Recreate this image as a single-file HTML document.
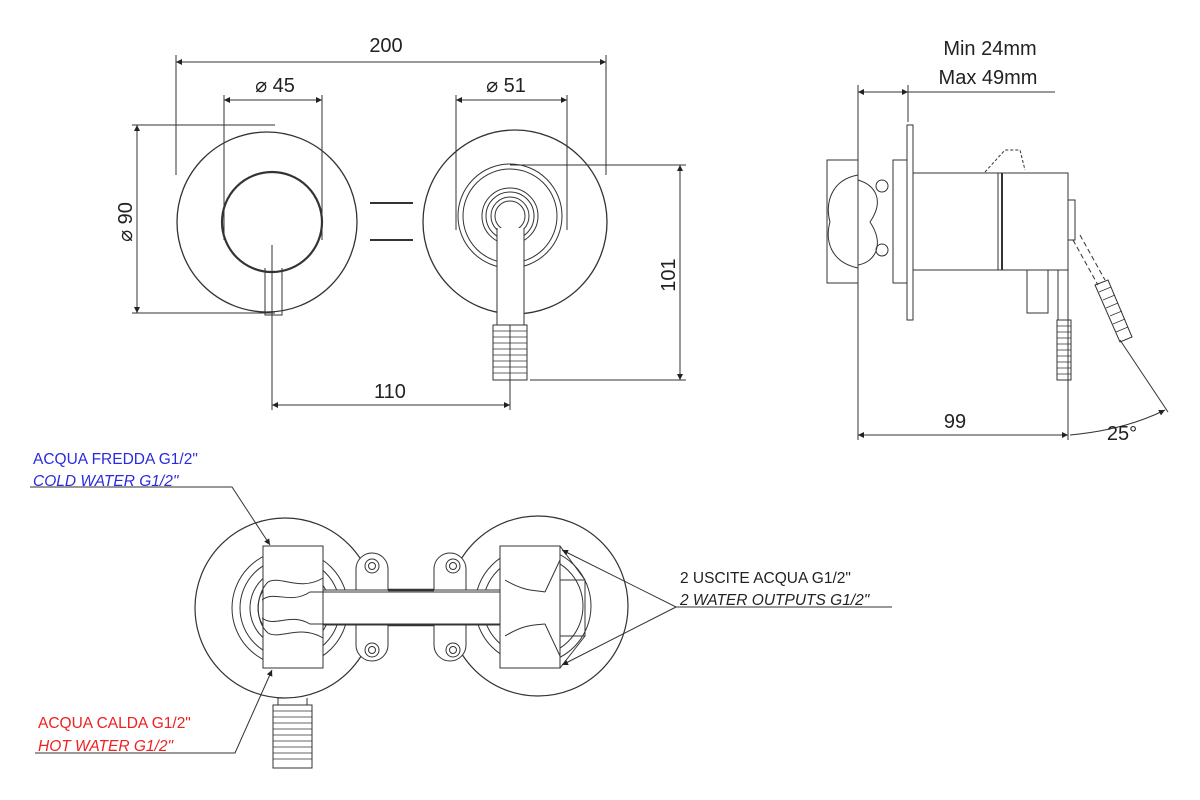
<!DOCTYPE html>
<html><head><meta charset="utf-8"><style>
html,body{margin:0;padding:0;background:#fff;}
svg{display:block;}
text{font-family:"Liberation Sans",sans-serif;}
</style></head><body>
<svg width="1200" height="800" viewBox="0 0 1200 800" xmlns="http://www.w3.org/2000/svg">
<defs>
<marker id="a" viewBox="0 0 10 10" refX="10" refY="5" markerWidth="10" markerHeight="6" orient="auto-start-reverse" markerUnits="userSpaceOnUse"><path d="M0,0 L10,5 L0,10 z" fill="#222"/></marker>
</defs>
<g stroke="#333" stroke-width="1" fill="none">
<!-- ===== TOP FRONT VIEW ===== -->
<!-- dims -->
<line x1="176" y1="55" x2="176" y2="175"/><line x1="606" y1="55" x2="606" y2="175"/>
<line x1="176" y1="62" x2="606" y2="62" marker-start="url(#a)" marker-end="url(#a)"/>
<line x1="224" y1="95" x2="224" y2="240"/><line x1="322" y1="95" x2="322" y2="240"/>
<line x1="224" y1="100" x2="322" y2="100" marker-start="url(#a)" marker-end="url(#a)"/>
<line x1="456" y1="95" x2="456" y2="230"/><line x1="567" y1="95" x2="567" y2="230"/>
<line x1="456" y1="100" x2="567" y2="100" marker-start="url(#a)" marker-end="url(#a)"/>
<line x1="132" y1="125" x2="275" y2="125"/><line x1="132" y1="313" x2="275" y2="313"/>
<line x1="137" y1="125" x2="137" y2="313" marker-start="url(#a)" marker-end="url(#a)"/>
<line x1="510" y1="165" x2="686" y2="165"/><line x1="530" y1="380" x2="686" y2="380"/>
<line x1="680" y1="165" x2="680" y2="380" marker-start="url(#a)" marker-end="url(#a)"/>
<line x1="272" y1="245" x2="272" y2="410"/><line x1="510" y1="230" x2="510" y2="410"/>
<line x1="272" y1="405" x2="510" y2="405" marker-start="url(#a)" marker-end="url(#a)"/>
<!-- left -->
<circle cx="267" cy="222" r="90" stroke-width="1.3"/>
<circle cx="272" cy="222" r="50" stroke-width="2.2"/>
<path d="M265,268 L265,315 L282,315 L282,268"/>
<!-- connector -->
<line x1="370" y1="203" x2="413" y2="203" stroke-width="2"/>
<line x1="370" y1="240" x2="413" y2="240" stroke-width="2"/>
<!-- right -->
<circle cx="515" cy="222" r="92" stroke-width="1.3"/>
<circle cx="510" cy="216" r="52"/><circle cx="510" cy="216" r="47"/>
<circle cx="510" cy="216" r="28"/><circle cx="510" cy="216" r="24"/><circle cx="510" cy="216" r="19"/><circle cx="510" cy="216" r="15"/>
<path d="M497,228 L497,325 L524,325 L524,228" fill="#fff"/>
<rect x="493" y="325" width="34" height="55"/>
<path d="M493,331h34M493,337h34M493,343h34M493,349h34M493,355h34M493,361h34M493,367h34M493,373h34" stroke-width="0.8"/>

<!-- ===== SIDE VIEW ===== -->
<line x1="905" y1="92" x2="1055" y2="92"/>
<line x1="858" y1="85" x2="858" y2="440"/><line x1="908" y1="85" x2="908" y2="122"/>
<line x1="858" y1="92" x2="908" y2="92" marker-start="url(#a)" marker-end="url(#a)"/>
<line x1="1068" y1="200" x2="1068" y2="440"/>
<line x1="858" y1="435" x2="1068" y2="435" marker-start="url(#a)" marker-end="url(#a)"/>
<path d="M1070,435 Q1125,430 1165,410" marker-end="url(#a)"/>
<line x1="1120" y1="340" x2="1168" y2="412"/>
<rect x="827" y="160" width="31" height="123"/>
<path d="M858,175 C830,180 825,205 830,222 C825,240 830,262 858,268" />
<path d="M858,180 C875,185 885,200 870,222 C885,245 875,262 858,265"/>
<circle cx="882" cy="186" r="6"/><circle cx="882" cy="250" r="6"/>
<rect x="893" y="160" width="14" height="123"/>
<rect x="907" y="125" width="6" height="195"/>
<rect x="913" y="173" width="85" height="97"/>
<rect x="998" y="173" width="70" height="97"/>
<line x1="1002" y1="173" x2="1002" y2="270" stroke-width="2"/>
<path d="M985,172 L1005,150 L1020,150 L1025,170" stroke-dasharray="3,2"/>
<path d="M1027,270 L1027,313 L1048,313 L1048,270"/>
<path d="M1058,270 L1058,320 M1068,270 L1068,320"/>
<rect x="1057" y="320" width="14" height="60"/>
<path d="M1057,326h14M1057,332h14M1057,338h14M1057,344h14M1057,350h14M1057,356h14M1057,362h14M1057,368h14M1057,374h14" stroke-width="0.7"/>
<rect x="1068" y="200" width="7" height="40"/>
<path d="M1073,240 L1098,285 M1080,235 L1105,280" stroke-dasharray="5,3"/>
<path d="M1095,285 L1108,280 L1132,337 L1120,342 z"/>
<path d="M1099,292l12-5M1103,300l12-5M1106,308l12-5M1110,316l12-5M1113,324l12-5M1116,332l12-5" stroke-width="0.7"/>

<!-- ===== BOTTOM VIEW ===== -->
<circle cx="285" cy="608" r="90" stroke-width="1.2"/>
<circle cx="290" cy="608" r="58"/><circle cx="290" cy="608" r="50"/><circle cx="290" cy="608" r="40"/><circle cx="290" cy="608" r="32"/>
<circle cx="538" cy="606" r="90" stroke-width="1.2"/>
<circle cx="533" cy="606" r="58"/><circle cx="533" cy="606" r="50"/>
<!-- ears -->
<rect x="356" y="553" width="32" height="108" rx="16" fill="#fff"/>
<circle cx="372" cy="566" r="7"/><circle cx="372" cy="566" r="3.5"/><circle cx="372" cy="650" r="7"/><circle cx="372" cy="650" r="3.5"/>
<rect x="434" y="553" width="32" height="108" rx="16" fill="#fff"/>
<circle cx="453" cy="566" r="7"/><circle cx="453" cy="566" r="3.5"/><circle cx="453" cy="650" r="7"/><circle cx="453" cy="650" r="3.5"/>
<!-- pipe -->
<rect x="300" y="590" width="245" height="35" fill="#fff"/>
<line x1="388" y1="590" x2="434" y2="590" stroke-width="2.5"/><line x1="388" y1="625" x2="434" y2="625" stroke-width="2.5"/>
<!-- blocks -->
<rect x="263" y="546" width="60" height="122" fill="#fff"/>
<path d="M268,582 C280,575 300,592 323,578 M268,633 C280,640 300,624 323,638 M268,582 C255,595 255,622 268,633" fill="none"/>
<path d="M262,600 C275,590 290,605 310,592 L545,592 M262,618 C275,628 290,612 310,624 L545,624"/>
<rect x="500" y="546" width="60" height="122" fill="#fff"/>
<path d="M560,546 L585,580 L585,636 L560,668 M545,592 L560,560 M545,624 L560,656 M560,580 L585,580 M560,636 L585,636"/>
<path d="M505,580 C525,592 535,590 545,592 M505,636 C525,624 535,625 545,624"/>
<rect x="273" y="705" width="39" height="63"/>
<path d="M273,711h39M273,717h39M273,723h39M273,729h39M273,735h39M273,741h39M273,747h39M273,753h39M273,759h39" stroke-width="0.7"/>
<line x1="278" y1="698" x2="278" y2="705"/><line x1="307" y1="698" x2="307" y2="705"/>
<!-- leaders -->
<path d="M30,487 L232,487 L270,545" marker-end="url(#a)"/>
<path d="M35,753 L235,753 L272,670" marker-end="url(#a)"/>
<path d="M892,607 L676,607 L562,550" marker-end="url(#a)"/>
<path d="M676,607 L562,665" marker-end="url(#a)"/>
</g>
<g fill="#222" font-size="20">
<text x="386" y="52" text-anchor="middle">200</text>
<text x="275" y="92" text-anchor="middle">⌀ 45</text>
<text x="506" y="92" text-anchor="middle">⌀ 51</text>
<text transform="translate(132,222) rotate(-90)" text-anchor="middle">⌀ 90</text>
<text transform="translate(675,275) rotate(-90)" text-anchor="middle">101</text>
<text x="390" y="398" text-anchor="middle">110</text>
<text x="990" y="55" text-anchor="middle">Min 24mm</text>
<text x="988" y="84" text-anchor="middle">Max 49mm</text>
<text x="955" y="428" text-anchor="middle">99</text>
<text x="1122" y="440" text-anchor="middle">25°</text>
</g>
<g font-size="15.5">
<text x="33" y="464" fill="#2a2ae0">ACQUA FREDDA G1/2"</text>
<text x="33" y="486" fill="#2a2ae0" font-style="italic">COLD WATER G1/2"</text>
<text x="38" y="728" fill="#ee2020">ACQUA CALDA G1/2"</text>
<text x="38" y="751" fill="#ee2020" font-style="italic">HOT WATER G1/2"</text>
<text x="680" y="583" fill="#222">2 USCITE ACQUA G1/2"</text>
<text x="680" y="605" fill="#222" font-style="italic">2 WATER OUTPUTS G1/2"</text>
</g>
</svg>
</body></html>
